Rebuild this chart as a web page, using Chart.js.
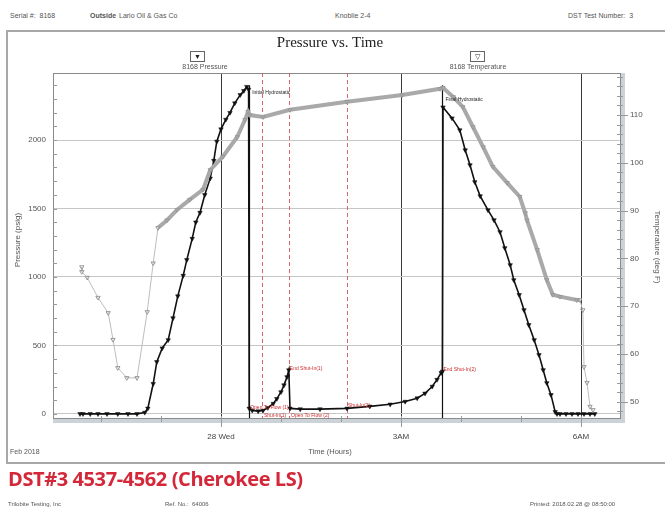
<!DOCTYPE html>
<html>
<head>
<meta charset="utf-8">
<script src="https://cdn.jsdelivr.net/npm/chart.js@4.4.1/dist/chart.umd.min.js"></script>
<style>
  body { margin: 0; background: #fff; }
  #wrap { position: relative; width: 665px; height: 508px; overflow: hidden; font-family: "Liberation Sans", Arial, sans-serif; }
  #frame { position: absolute; left: 6px; top: 30px; width: 690px; height: 434px; border: 2px solid #a8a8a8; box-sizing: border-box; }
  canvas { position: absolute; left: 0; top: 0; }
  .t { position: absolute; white-space: nowrap; color: #555; font-size: 7px; line-height: 8px; }
  .c { text-align: center; }
  .box { position: absolute; width: 13px; height: 9px; border: 1px solid #666; font-size: 7px; line-height: 9px; text-align: center; color: #222; }
  #ptitle { position: absolute; left: 180px; width: 300px; top: 34px; text-align: center; font-family: "Liberation Serif", "Times New Roman", serif; font-size: 15px; color: #222; }
  #red { position: absolute; left: 8px; top: 465px; font-family: "Open Sans", "Noto Sans", sans-serif; font-weight: bold; font-size: 20px; color: #d4283a; white-space: nowrap; letter-spacing: -0.4px; }
</style>
</head>
<body>
<div id="wrap">
  <div class="t" style="left:10px;top:12px">Serial #:&nbsp; 8168</div>
  <div class="t" style="left:90px;top:12px;font-weight:bold">Outside</div>
  <div class="t" style="left:119px;top:12px">Lario Oil &amp; Gas Co</div>
  <div class="t" style="left:335px;top:12px">Knoblie 2-4</div>
  <div class="t" style="left:568px;top:12px">DST Test Number:&nbsp; 3</div>
  <div id="frame"></div>
  <canvas id="pressureTimeChart" width="665" height="508"></canvas>
  <div id="ptitle">Pressure vs. Time</div>
  <div class="box" style="left:190px;top:51px">▼</div>
  <div class="t c" style="left:165px;width:80px;top:63px">8168 Pressure</div>
  <div class="box" style="left:470px;top:51px">▽</div>
  <div class="t c" style="left:435px;width:86px;top:63px">8168 Temperature</div>
  <div class="t" style="left:-22px;top:236px;width:80px;text-align:center;font-size:8px;transform:rotate(-90deg)">Pressure (psig)</div>
  <div class="t" style="left:612px;top:243px;width:90px;text-align:center;font-size:8px;transform:rotate(90deg)">Temperature (deg F)</div>
  <div class="t" style="left:10px;top:448px">Feb 2018</div>
  <div class="t c" style="left:290px;width:80px;top:448px;font-size:7.5px">Time (Hours)</div>
  <div id="red">DST#3 4537-4562 (Cherokee LS)</div>
  <div class="t" style="left:8px;top:500px;font-size:6px">Trilobite Testing, Inc</div>
  <div class="t" style="left:165px;top:500px;font-size:6px">Ref. No.:&nbsp; 64006</div>
  <div class="t" style="left:530px;top:500px;font-size:6px">Printed: 2018.02.28 @ 08:50:00</div>
</div>
<script>
// time in hours from midnight (28 Wed), pressure in psig
const pressureHours = [-2.35, -2.30, -2.18, -2.05, -1.90, -1.72, -1.55, -1.40, -1.27, -1.22, -1.13, -1.07, -0.98, -0.88, -0.80, -0.72, -0.63, -0.57, -0.48, -0.42, -0.35, -0.27, -0.18, -0.12, -0.07, 0.00, 0.08, 0.15, 0.23, 0.32, 0.38, 0.43, 0.46,
  0.47, 0.52, 0.62, 0.70, 0.78, 0.87, 0.93, 1.00, 1.05, 1.10, 1.13,
  1.15, 1.32, 1.65, 2.10, 2.48, 2.82, 3.07, 3.27, 3.40, 3.52, 3.60, 3.67, 3.69,
  3.70, 3.85, 3.98, 4.07, 4.15, 4.23, 4.32, 4.45, 4.55, 4.65, 4.73, 4.82, 4.88, 4.97, 5.05, 5.13, 5.22, 5.30, 5.37, 5.43, 5.50, 5.57, 5.60,
  5.65, 5.75, 5.85, 5.95, 6.05, 6.15, 6.23];
const pressurePsi = [0, 0, 0, 0, 0, 0, 0, 0, 10, 40, 220, 380, 480, 540, 700, 860, 1010, 1125, 1280, 1400, 1470, 1600, 1720, 1850, 1990, 2080, 2150, 2200, 2270, 2330, 2360, 2390, 2370,
  40, 25, 20, 25, 45, 75, 110, 160, 210, 270, 320,
  40, 35, 35, 40, 55, 70, 90, 115, 150, 200, 250, 300, 310,
  2240, 2160, 2073, 1927, 1818, 1694, 1591, 1489, 1416, 1329, 1212, 1088, 978, 869, 759, 650, 540, 431, 321, 226, 139, 15, 0,
  0, 0, 0, 0, 0, 0, 0];

// temperature in deg F
const tempHours = [-2.32, -2.32, -2.23, -2.05, -1.88, -1.80, -1.72, -1.57, -1.40, -1.23, -1.13, -1.05, -0.90, -0.73, -0.52, -0.30, -0.18, 0.03, 0.27, 0.40, 0.45,
  0.48, 0.70, 1.15, 2.10, 3.02, 3.65, 3.70, 3.87, 4.03, 4.20, 4.37, 4.53, 4.77, 4.98, 5.07, 5.10, 5.27, 5.43, 5.53, 5.65, 5.93, 5.98,
  6.03, 6.05, 6.10, 6.15, 6.20];
const tempDegF = [78.2, 77.2, 76.0, 71.8, 68.6, 63.0, 57.1, 55.0, 55.0, 68.8, 79.0, 86.4, 88.0, 90.2, 92.3, 94.4, 98.5, 101.3, 105.4, 109.0, 110.7,
  110.0, 109.6, 111.1, 112.8, 114.2, 115.5, 115.7, 113.8, 111.7, 107.5, 103.3, 99.2, 95.8, 92.9, 89.5, 88.0, 81.8, 75.5, 72.4, 72.0, 71.3, 71.3,
  69.2, 57.3, 54.0, 49.0, 48.3];

// axis ticks
const tickHours = [0, 3, 6];
const tickNames = ['28 Wed', '3AM', '6AM'];
const pressureTicks = [0, 500, 1000, 1500, 2000];
const tempTicks = [50, 60, 70, 80, 90, 100, 110];

// events
const hydroHours = [0.47, 3.69];
const hydroNames = ['Initial Hydrostatic', 'Final Hydrostatic'];
const hydroPsi = [2400, 2400];
const dashHours = [0.68, 1.13, 2.10];
const redNames = ['Open To Flow (1)', 'Shut-In(1)', 'End Shut-In(1)', 'Open To Flow (2)', 'Shut-In(2)', 'End Shut-In(2)'];
const redHours = [0.47, 0.70, 1.13, 1.15, 2.10, 3.69];
const redPsi = [45, -10, 330, -10, 60, 320];

const pressureData = pressureHours.map((h, i) => ({ x: h, y: pressurePsi[i] }));
const tempData = tempHours.map((h, i) => ({ x: h, y: tempDegF[i] }));

const extras = {
  id: 'extras',
  beforeDatasetsDraw(chart) {
    const { ctx, chartArea: a, scales } = chart;
    const x = scales.x, y = scales.y, y2 = scales.y2;
    ctx.save();
    // grey base strips
    ctx.fillStyle = '#cbd2d8';
    ctx.fillRect(a.left, a.bottom, a.right - a.left + 5, 5);
    ctx.fillRect(a.right, a.top, 5, a.bottom - a.top + 5);
    ctx.strokeStyle = '#8a8a8a';
    ctx.lineWidth = 1;
    ctx.strokeRect(a.left + 0.5, a.top + 0.5, a.right - a.left, a.bottom - a.top);
    // minor ticks
    ctx.strokeStyle = '#999';
    ctx.beginPath();
    for (let v = 0; v <= 2400; v += 100) {
      const py = Math.round(y.getPixelForValue(v)) + 0.5;
      ctx.moveTo(a.left, py); ctx.lineTo(a.left + 4, py);
    }
    for (let v = 48; v <= 118; v += 2) {
      const py = Math.round(y2.getPixelForValue(v)) + 0.5;
      const len = v % 10 === 0 ? 8 : 3;
      ctx.moveTo(a.right - 3, py); ctx.lineTo(a.right + len, py);
    }
    for (let h = -2; h <= 6; h++) {
      const px = Math.round(x.getPixelForValue(h)) + 0.5;
      ctx.moveTo(px, a.bottom - 2); ctx.lineTo(px, a.bottom + (h % 3 === 0 ? 9 : 4));
    }
    ctx.stroke();
    // dashed event lines
    ctx.strokeStyle = '#d9656b';
    ctx.setLineDash([4, 3]);
    ctx.beginPath();
    dashHours.forEach(h => {
      const px = Math.round(x.getPixelForValue(h)) + 0.5;
      ctx.moveTo(px, a.top); ctx.lineTo(px, a.bottom);
    });
    ctx.stroke();
    ctx.setLineDash([]);
    // hydrostatic marker lines
    ctx.strokeStyle = '#111';
    ctx.lineWidth = 1.2;
    ctx.beginPath();
    hydroHours.forEach((h, i) => {
      const px = Math.round(x.getPixelForValue(h)) + 0.5;
      ctx.moveTo(px, y.getPixelForValue(hydroPsi[i])); ctx.lineTo(px, a.bottom);
    });
    ctx.stroke();
    ctx.restore();
  },
  afterDatasetsDraw(chart) {
    const { ctx, scales } = chart;
    const x = scales.x, y = scales.y;
    ctx.save();
    ctx.font = '5px "Liberation Sans", Arial';
    ctx.textBaseline = 'middle';
    ctx.fillStyle = '#222';
    hydroHours.forEach((h, i) => {
      ctx.fillText(hydroNames[i], x.getPixelForValue(h) + 3, y.getPixelForValue(hydroPsi[i]) + (i ? 14 : 7));
    });
    ctx.fillStyle = '#cc2a2a';
    redHours.forEach((h, i) => {
      ctx.fillText(redNames[i], x.getPixelForValue(h) + 1, y.getPixelForValue(redPsi[i]));
    });
    ctx.restore();
  }
};

new Chart(document.getElementById('pressureTimeChart'), {
  type: 'line',
  data: {
    datasets: [{
      label: '8168 Temperature',
      data: tempData,
      yAxisID: 'y2',
      borderColor: '#adadad',
      backgroundColor: 'rgba(255,255,255,0)',
      pointBorderColor: '#9a9a9a',
      pointStyle: 'triangle',
      rotation: 180,
      pointRadius: 2.5,
      pointBorderWidth: 1,
      segment: {
        borderWidth: c => (c.p0.parsed.x >= -1.1 && c.p1.parsed.x <= 6.0) ? 4 : 1,
        borderColor: c => (c.p0.parsed.x >= -1.1 && c.p1.parsed.x <= 6.0) ? '#a9a9a9' : '#bdbdbd'
      },
      tension: 0
    }, {
      label: '8168 Pressure',
      data: pressureData,
      yAxisID: 'y',
      borderColor: '#111',
      backgroundColor: '#111',
      borderWidth: 1.6,
      pointStyle: 'triangle',
      rotation: 180,
      pointRadius: 2.6,
      pointBorderWidth: 0.5,
      tension: 0
    }]
  },
  options: {
    responsive: false,
    animation: false,
    layout: { padding: { left: 6, top: 73, right: 0, bottom: 60 } },
    plugins: { legend: { display: false }, tooltip: { enabled: false } },
    scales: {
      x: {
        type: 'linear',
        min: -2.8,
        max: 6.65,
        afterBuildTicks: s => { s.ticks = [-2, -1, 0, 1, 2, 3, 4, 5, 6].map(v => ({ value: v })); },
        afterFit: s => { s.height = 30; },
        ticks: {
          autoSkip: false,
          maxRotation: 0,
          padding: 14,
          color: '#444',
          font: { size: 8 },
          callback: v => { const k = tickHours.indexOf(v); return k >= 0 ? tickNames[k] : ''; }
        },
        grid: {
          drawTicks: false,
          color: c => tickHours.includes(c.tick.value) ? '#3a3a3a' : 'rgba(0,0,0,0)'
        },
        border: { display: false }
      },
      y: {
        position: 'left',
        min: -30,
        max: 2490,
        afterBuildTicks: s => { s.ticks = pressureTicks.map(v => ({ value: v })); },
        afterFit: s => { s.width = 47; },
        ticks: { autoSkip: false, padding: 7, color: '#555', font: { size: 8 }, callback: v => String(v) },
        grid: { drawTicks: false, color: '#c6c6c6' },
        border: { display: false }
      },
      y2: {
        position: 'right',
        min: 46.6,
        max: 118.8,
        afterBuildTicks: s => { s.ticks = tempTicks.map(v => ({ value: v })); },
        afterFit: s => { s.width = 45; },
        ticks: { autoSkip: false, padding: 10, color: '#555', font: { size: 8 }, callback: v => String(v) },
        grid: { drawOnChartArea: false, drawTicks: false },
        border: { display: false }
      }
    }
  },
  plugins: [extras]
});
</script>
</body>
</html>
